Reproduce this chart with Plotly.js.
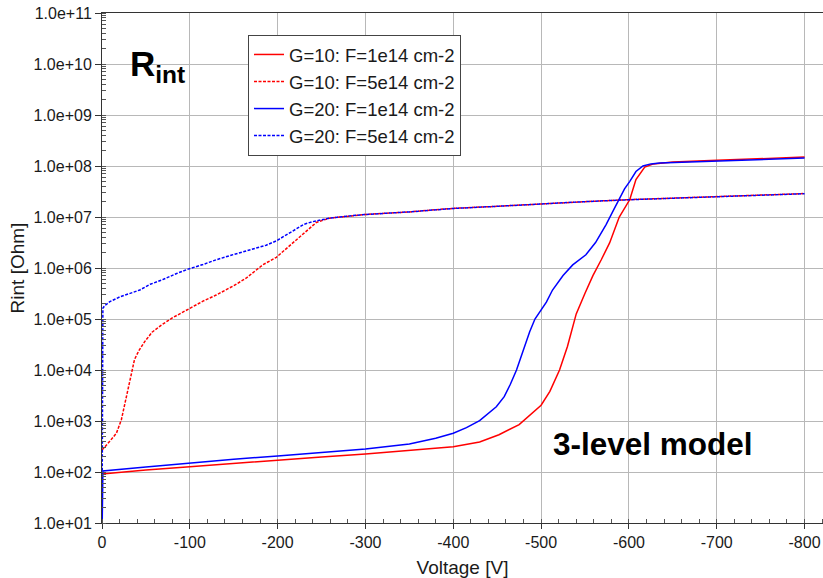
<!DOCTYPE html>
<html>
<head>
<meta charset="utf-8">
<script src="https://cdn.plot.ly/plotly-3.0.1.min.js"></script>
<style>
  html, body { margin: 0; padding: 0; background: #ffffff; }
  #chart { width: 823px; height: 578px; }
</style>
</head>
<body>
<div id="chart"></div>
<script>
// ---- data (Voltage [V], Rint [Ohm]) ----
const seriesNames = [
  "G=10: F=1e14 cm-2",
  "G=10: F=5e14 cm-2",
  "G=20: F=1e14 cm-2",
  "G=20: F=5e14 cm-2"
];

const vG10F1 = [0, -50, -100, -150, -200, -250, -300, -350, -400, -430, -452, -475, -490, -500, -510, -521, -530, -540, -550, -559, -568.5, -578, -589, -601, -608, -618, -628, -650, -700, -750, -800];
const rG10F1 = [91, 110, 127, 148, 172, 197, 225, 263, 314, 389, 537, 851, 1410, 2040, 3800, 1.0e4, 2.9e4, 1.26e5, 3.2e5, 7.1e5, 1.45e6, 3.1e6, 1.0e7, 2.2e7, 5.4e7, 9.5e7, 1.1e8, 1.2e8, 1.29e8, 1.38e8, 1.5e8];

const vG10F5 = [0, -4, -8.8, -16.4, -22, -27.8, -33.4, -37, -42, -48.6, -57, -67.6, -80, -98, -115, -130, -150, -164, -183, -198.5, -210, -221, -232, -244, -259, -282, -300, -350, -400, -450, -500, -550, -600, -650, -700, -750, -800];
const rG10F5 = [270, 330, 400, 575, 1050, 3000, 8700, 1.6e4, 2.4e4, 3.6e4, 5.5e4, 7.6e4, 1.05e5, 1.58e5, 2.24e5, 2.95e5, 4.5e5, 6.3e5, 1.15e6, 1.62e6, 2.4e6, 3.55e6, 5.25e6, 7.8e6, 9.5e6, 1.05e7, 1.12e7, 1.26e7, 1.48e7, 1.62e7, 1.82e7, 2.0e7, 2.19e7, 2.34e7, 2.45e7, 2.7e7, 2.88e7];

const vG20F1 = [0, -1, -50, -100, -150, -200, -250, -300, -350, -380, -400, -415, -430, -440, -449, -458, -465, -472, -480, -487, -493, -500, -506, -513, -525, -536, -551, -562, -574, -582, -589, -595, -601, -608, -616, -625, -635, -650, -700, -750, -800];
const rG20F1 = [5, 105, 126, 151, 178, 207, 240, 282, 355, 457, 575, 741, 1020, 1410, 1900, 3000, 5250, 1.0e4, 2.5e4, 5.6e4, 1.0e5, 1.48e5, 2.14e5, 3.7e5, 7.1e5, 1.15e6, 1.82e6, 3.16e6, 7.1e6, 1.32e7, 2.24e7, 3.55e7, 5.0e7, 7.8e7, 1.0e8, 1.1e8, 1.15e8, 1.17e8, 1.26e8, 1.35e8, 1.43e8];

const vG20F5 = [0, -0.5, -1, -3, -9, -20, -30, -43, -55, -70, -85, -98, -115, -130, -147, -164, -187, -198.5, -210, -221, -230, -240, -259, -282, -300, -350, -400, -450, -500, -550, -600, -650, -700, -750, -800];
const rG20F5 = [5, 1.26e5, 1.62e5, 1.82e5, 2.19e5, 2.7e5, 3.1e5, 3.7e5, 4.8e5, 6.0e5, 7.8e5, 9.5e5, 1.17e6, 1.45e6, 1.78e6, 2.19e6, 2.8e6, 3.4e6, 4.5e6, 6.0e6, 7.2e6, 8.1e6, 9.5e6, 1.05e7, 1.12e7, 1.26e7, 1.47e7, 1.62e7, 1.81e7, 2.0e7, 2.18e7, 2.34e7, 2.46e7, 2.68e7, 2.86e7];

const xTickVals = [0, -100, -200, -300, -400, -500, -600, -700, -800];
const xTickText = ["0", "-100", "-200", "-300", "-400", "-500", "-600", "-700", "-800"];
const yTickVals = [1e1, 1e2, 1e3, 1e4, 1e5, 1e6, 1e7, 1e8, 1e9, 1e10, 1e11];
const yTickText = ["1.0e+01", "1.0e+02", "1.0e+03", "1.0e+04", "1.0e+05", "1.0e+06", "1.0e+07", "1.0e+08", "1.0e+09", "1.0e+10", "1.0e+11"];

const RED = "#ff0000";
const BLUE = "#0000ff";
const DOTS = "3px,1.5px";

const traces = [
  { x: vG10F1, y: rG10F1, name: seriesNames[0], mode: "lines", line: { color: RED, width: 1.5 } },
  { x: vG10F5, y: rG10F5, name: seriesNames[1], mode: "lines", line: { color: RED, width: 1.5, dash: DOTS } },
  { x: vG20F1, y: rG20F1, name: seriesNames[2], mode: "lines", line: { color: BLUE, width: 1.5 } },
  { x: vG20F5, y: rG20F5, name: seriesNames[3], mode: "lines", line: { color: BLUE, width: 1.5, dash: DOTS } }
];

const FONT = "Liberation Sans, Arial, sans-serif";

const layout = {
  width: 823,
  height: 578,
  margin: { l: 102, r: 0, t: 13, b: 55, pad: 0 },
  paper_bgcolor: "#ffffff",
  plot_bgcolor: "#ffffff",
  font: { family: FONT, size: 16, color: "#1a1a1a" },
  showlegend: true,
  legend: {
    x: 0.2025, y: 0.957, xanchor: "left", yanchor: "top",
    bgcolor: "#ffffff", bordercolor: "#444444", borderwidth: 1,
    font: { family: FONT, size: 18.5, color: "#1a1a1a" },
    tracegroupgap: 0
  },
  xaxis: {
    range: [0, -821],
    tickmode: "array", tickvals: xTickVals, ticktext: xTickText,
    ticks: "outside", ticklen: 5, tickcolor: "#333333",
    showline: true, linecolor: "#333333", linewidth: 1, mirror: true,
    showgrid: true, gridcolor: "#b8b8b8", gridwidth: 1,
    zeroline: false,
    tickfont: { family: FONT, size: 16, color: "#1a1a1a" },
    minor: { dtick: 20, tick0: 0, ticks: "inside", ticklen: 4, tickcolor: "#555555", showgrid: false },
    title: { text: "Voltage [V]", font: { family: FONT, size: 19, color: "#1a1a1a" }, standoff: 10 }
  },
  yaxis: {
    type: "log",
    range: [1, 11],
    tickmode: "array", tickvals: yTickVals, ticktext: yTickText,
    ticks: "outside", ticklen: 6, tickcolor: "#333333",
    showline: true, linecolor: "#333333", linewidth: 1, mirror: false,
    showgrid: true, gridcolor: "#b8b8b8", gridwidth: 1,
    zeroline: false,
    tickfont: { family: FONT, size: 16, color: "#1a1a1a" },
    minor: { dtick: "D1", ticks: "inside", ticklen: 4, tickcolor: "#555555", showgrid: false },
    title: { text: "Rint [Ohm]", font: { family: FONT, size: 19, color: "#1a1a1a" }, standoff: 3 }
  },
  annotations: [
    {
      xref: "paper", yref: "paper", x: 0.036, y: 0.943, xanchor: "left", yanchor: "top",
      text: "<b>R<sub>int</sub></b>", showarrow: false,
      font: { family: FONT, size: 35, color: "#000000" }
    },
    {
      xref: "paper", yref: "paper", x: 0.623, y: 0.194, xanchor: "left", yanchor: "top",
      text: "<b>3-level model</b>", showarrow: false,
      font: { family: FONT, size: 31.5, color: "#000000" }
    }
  ]
};

Plotly.newPlot("chart", traces, layout, { staticPlot: true, displayModeBar: false });
</script>
</body>
</html>
